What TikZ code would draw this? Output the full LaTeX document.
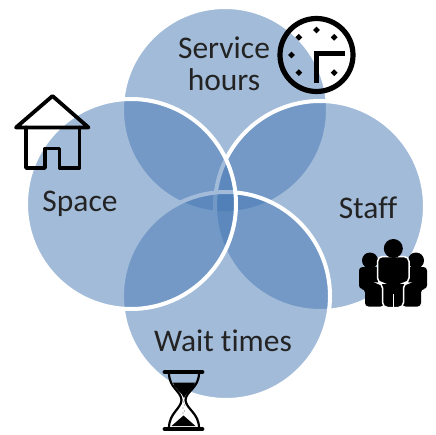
\documentclass[tikz,border=0pt]{standalone}
\usepackage{fontspec}
\setmainfont[Ligatures=CommonOff]{Carlito}
\definecolor{vennblue}{RGB}{70,120,180}
\definecolor{labelgray}{RGB}{35,35,35}
\tikzset{
  venn/.style={fill=vennblue,fill opacity=.5,draw=white,line width=4pt},
  vennlabel/.style={text=labelgray,font=\fontsize{31.5}{32}\selectfont,align=center,inner sep=0pt},
  icon/.style={draw=black,line width=3.8pt,line join=round,line cap=round},
  solidicon/.style={fill=black,rounded corners=3.5pt},
}

\begin{document}
\begin{tikzpicture}[x=1pt,y=-1pt]
    \useasboundingbox (0,0) rectangle (435,435);

    % circles, last one stays on top
    \draw[venn] (225,110) circle (103);
    \draw[venn] (320,206) circle (105);
    \draw[venn] (226,296) circle (104);
    \draw[venn] (131,204) circle (105);

    \node[vennlabel] (hours) at (224,64) {Service\\hours};
    \node[vennlabel] (space) at (80,204) {Space};
    \node[vennlabel] (staff) at (368,208) {Staff};
    \node[vennlabel] (wait) at (223,341) {Wait times};

    % clock
    \draw[icon,line width=5.2pt] (316.5,55) circle (36.5);
    \draw[icon,line width=5pt,line cap=butt,line join=miter] (345,54) -- (316,54) -- (316,83);
    \foreach \ang in {45,135,180,225,270,315}
      \fill (316.5,55) ++(\ang:25) ++(-3.4,0) -- ++(3.4,-3.4) -- ++(3.4,3.4) -- ++(-3.4,3.4) -- cycle;

    % house
    \draw[icon] (16,127.5) -- (52.5,96) -- (88.5,127.5) -- cycle;
    \draw[icon] (26,127.5) -- (26,168) -- (45,168) -- (45,148.5) -- (59.5,148.5) -- (59.5,168) -- (79.5,168) -- (79.5,127.5);

    % people
    \fill (370,260.5) circle (8);
    \fill (416,260.5) circle (8);
    \fill[solidicon] (359,289) -- (359,267) -- (384,267) -- (384,306.5) -- (365,306.5) -- (365,289) -- cycle;
    \fill[solidicon] (427,289) -- (427,267) -- (402,267) -- (402,306.5) -- (421,306.5) -- (421,289) -- cycle;
    \draw[white,line width=1.5pt,fill=black,rounded corners=5pt] (377.5,283) -- (377.5,256.5) -- (409,256.5) -- (409,283) -- (403.5,283) -- (403.5,307.5) -- (382.5,307.5) -- (382.5,283) -- cycle;
    \fill (393.3,248.5) circle (9.5);
    \draw[white,line width=.6pt] (393.3,294) -- (393.3,307);

    % hourglass
    \draw[icon,line width=4.8pt] (165,372) -- (202,372);
    \draw[icon,line width=4.8pt] (165,429) -- (202,429);
    \draw[icon,line width=2.2pt,line cap=butt] (169,373) .. controls (169,388) and (181,391) .. (181.5,400) .. controls (181,409) and (169,413) .. (169,428);
    \draw[icon,line width=2.2pt,line cap=butt] (199,373) .. controls (199,388) and (186,391) .. (185.5,400) .. controls (186,409) and (199,413) .. (199,428);
    \fill (173,382.5) -- (195,382.5) .. controls (193,390) and (186,392) .. (184,398) .. controls (182,392) and (175,390) .. (173,382.5) -- cycle;
    \fill (171.5,426) -- (183.5,415.5) -- (195.5,426) -- cycle;
    \foreach \yy/\xx in {402/183.5,405/184.5,408/183,411/184.5,413/183}
      \fill[gray] (\xx,\yy) circle (.7);
\end{tikzpicture}
\end{document}
